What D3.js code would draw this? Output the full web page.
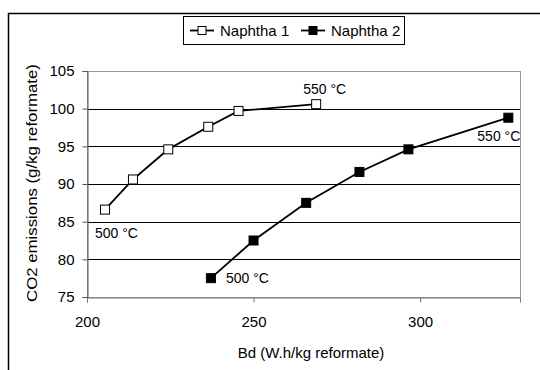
<!DOCTYPE html>
<html>
<head>
<meta charset="utf-8">
<script src="https://cdn.jsdelivr.net/npm/d3@7"></script>
<style>
  body { margin: 0; background: #fff; }
  svg text { font-family: "Liberation Sans", Arial, sans-serif; fill: #000; }
</style>
</head>
<body>
<div id="chart"></div>
<script>
// data
const naphtha1Bd = [205.4, 213.8, 224.4, 236.4, 245.5, 268.8];
const naphtha1Co2 = [86.6, 90.6, 94.6, 97.6, 99.7, 100.6];
const naphtha2Bd = [237.2, 250.0, 265.8, 281.8, 296.5, 326.5];
const naphtha2Co2 = [77.5, 82.5, 87.5, 91.6, 94.6, 98.8];
const xTicks = [200, 250, 300];
const yTicks = [75, 80, 85, 90, 95, 100, 105];
const seriesNames = ['Naphtha 1', 'Naphtha 2'];

const W = 540, H = 370;
const margin = { top: 71, right: 20, bottom: 73, left: 87 };
const width = W - margin.left - margin.right;
const height = H - margin.top - margin.bottom;

const svg = d3.select('#chart').append('svg')
  .attr('width', W)
  .attr('height', H);

// outer chart frame
svg.append('rect')
  .attr('x', 8.5).attr('y', 13.5)
  .attr('width', W).attr('height', H)
  .attr('fill', 'none').attr('stroke', '#000').attr('stroke-width', 1.5);

const g = svg.append('g')
  .attr('transform', `translate(${margin.left},${margin.top})`);

const x = d3.scaleLinear().domain([200, 330]).range([0, width]);
const y = d3.scaleLinear().domain([75, 105]).range([height, 0]);

// gridlines
g.selectAll('.grid')
  .data(yTicks.filter(d => d > 75 && d < 105))
  .enter().append('line')
  .attr('x1', 0).attr('x2', width)
  .attr('y1', d => Math.round(y(d)) + 0.5).attr('y2', d => Math.round(y(d)) + 0.5)
  .attr('stroke', '#000').attr('stroke-width', 1);

// plot area border
g.append('rect')
  .attr('x', 0.5).attr('y', 0.5)
  .attr('width', width).attr('height', height)
  .attr('fill', 'none').attr('stroke', '#999').attr('stroke-width', 1);

const xAxis = g.append('g')
  .attr('transform', `translate(0,${height + 0.5})`)
  .call(d3.axisBottom(x).tickValues(xTicks).tickSize(5).tickPadding(14));
xAxis.select('.domain').attr('stroke', '#777');
xAxis.selectAll('line').attr('stroke', '#777');
xAxis.selectAll('text').style('font-size', '15px');

const yAxis = g.append('g')
  .attr('transform', 'translate(0.5,0)')
  .call(d3.axisLeft(y).tickValues(yTicks).tickSize(5).tickPadding(8));
yAxis.select('.domain').attr('stroke', '#555');
yAxis.selectAll('line').attr('stroke', '#555');
yAxis.selectAll('text').style('font-size', '15px');

// axis titles
svg.append('text')
  .attr('x', 311).attr('y', 358)
  .attr('text-anchor', 'middle')
  .style('font-size', '15px')
  .text('Bd (W.h/kg reformate)');

svg.append('text')
  .attr('transform', `translate(37,183) scale(1,1.12) rotate(-90)`)
  .attr('text-anchor', 'middle')
  .style('font-size', '15px')
  .text('CO2 emissions (g/kg reformate)');

const line = d3.line().x(d => x(d[0])).y(d => y(d[1]));
const series = [
  { pts: d3.zip(naphtha1Bd, naphtha1Co2), fill: '#fff' },
  { pts: d3.zip(naphtha2Bd, naphtha2Co2), fill: '#000' }
];

series.forEach(s => {
  g.append('path')
    .datum(s.pts)
    .attr('d', line)
    .attr('fill', 'none').attr('stroke', '#000').attr('stroke-width', 1.8);
  g.selectAll(null)
    .data(s.pts)
    .enter().append('rect')
    .attr('x', d => x(d[0]) - 4.5).attr('y', d => y(d[1]) - 4.5)
    .attr('width', 9).attr('height', 9)
    .attr('fill', s.fill).attr('stroke', '#000').attr('stroke-width', 1);
});

// temperature annotations
const notes = [
  { pt: series[0].pts[0], text: '500 °C', dx: -10, dy: 28 },
  { pt: series[0].pts[5], text: '550 °C', dx: -13, dy: -10 },
  { pt: series[1].pts[0], text: '500 °C', dx: 15, dy: 5 },
  { pt: series[1].pts[5], text: '550 °C', dx: -31, dy: 23 }
];
g.selectAll('.note')
  .data(notes)
  .enter().append('text')
  .attr('x', d => x(d.pt[0]) + d.dx)
  .attr('y', d => y(d.pt[1]) + d.dy)
  .style('font-size', '14px')
  .text(d => d.text);

// legend
const legend = svg.append('g');
legend.append('rect')
  .attr('x', 183.5).attr('y', 16.5)
  .attr('width', 221).attr('height', 28)
  .attr('fill', '#fff').attr('stroke', '#000').attr('stroke-width', 1);
const legendX = [190, 301];
seriesNames.forEach((name, i) => {
  const lx = legendX[i];
  legend.append('line')
    .attr('x1', lx).attr('x2', lx + 24)
    .attr('y1', 30.5).attr('y2', 30.5)
    .attr('stroke', '#000').attr('stroke-width', 1.8);
  legend.append('rect')
    .attr('x', lx + 8).attr('y', 26.5)
    .attr('width', 8).attr('height', 8)
    .attr('fill', series[i].fill).attr('stroke', '#000');
  legend.append('text')
    .attr('x', lx + 30).attr('y', 36)
    .style('font-size', '15px')
    .text(name);
});
</script>
</body>
</html>
